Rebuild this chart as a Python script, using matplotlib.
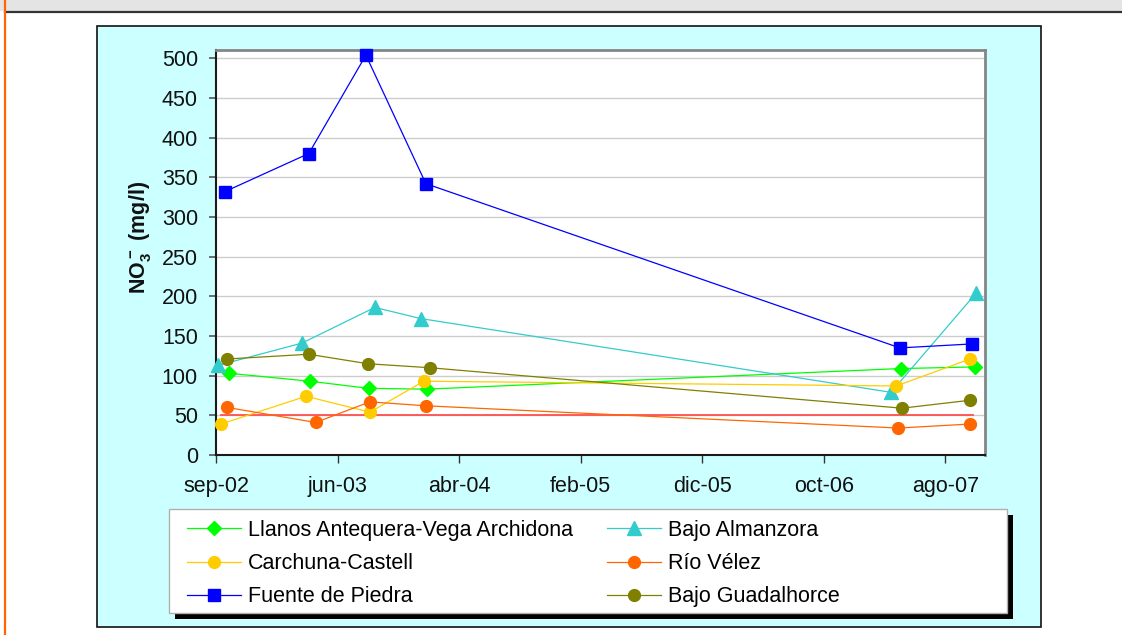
import matplotlib
matplotlib.use('Agg')
import matplotlib.pyplot as plt
import matplotlib.dates as mdates
from matplotlib.patches import Rectangle
from matplotlib.lines import Line2D
import numpy as np

plt.rcParams['font.family'] = ['Liberation Sans', 'DejaVu Sans']
plt.rcParams['mathtext.fontset'] = 'custom'
plt.rcParams['mathtext.rm'] = 'Liberation Sans:bold'
plt.rcParams['mathtext.bf'] = 'Liberation Sans:bold'
plt.rcParams['mathtext.default'] = 'bf'

# ---------------- data ----------------
llanos_dates = ['2002-10-03', '2003-04-21', '2003-09-13', '2004-02-03', '2007-04-19', '2007-10-18']
llanos_vals = [103, 93, 84, 83, 109, 111]

almanzora_dates = ['2002-09-06', '2003-04-01', '2003-09-28', '2004-01-19', '2007-03-25', '2007-10-21']
almanzora_vals = [113, 141, 186, 172, 79, 204]

carchuna_dates = ['2002-09-13', '2003-04-11', '2003-09-16', '2004-01-27', '2007-04-07', '2007-10-06']
carchuna_vals = [39, 74, 54, 93, 87, 121]

velez_dates = ['2002-09-28', '2003-05-05', '2003-09-16', '2004-02-01', '2007-04-12', '2007-10-06']
velez_vals = [60, 41, 67, 62, 34, 39]

fuente_dates = ['2002-09-23', '2003-04-18', '2003-09-06', '2004-02-01', '2007-04-16', '2007-10-11']
fuente_vals = [332, 380, 504, 342, 135, 140]

guadalhorce_dates = ['2002-09-28', '2003-04-18', '2003-09-11', '2004-02-11', '2007-04-21', '2007-10-06']
guadalhorce_vals = [121, 127, 115, 110, 59, 69]

limit_dates = ['2002-09-13', '2007-10-13']
limit_vals = [50, 50]

names = ['Llanos Antequera-Vega Archidona', 'Bajo Almanzora', 'Carchuna-Castell',
         'Río Vélez', 'Fuente de Piedra', 'Bajo Guadalhorce']

tick_dates = ['2002-09-01', '2003-06-28', '2004-04-23', '2005-02-17',
              '2005-12-14', '2006-10-10', '2007-08-06']
tick_labels = ['sep-02', 'jun-03', 'abr-04', 'feb-05', 'dic-05', 'oct-06', 'ago-07']
x_min, x_max = '2002-09-01', '2007-11-12'
y_ticks = [0, 50, 100, 150, 200, 250, 300, 350, 400, 450, 500]
y_max = 510.5

ylabel = 'NO$_3^-$ (mg/l)'

# ---------------- figure ----------------
W, H = 1122, 635
fig = plt.figure(figsize=(W / 100, H / 100), dpi=100)
fig.patch.set_facecolor('white')


def fx(px):
    return px / W


def fy(py):
    return 1 - py / H


# top grey band and frame lines
fig.add_artist(Rectangle((0, fy(11)), 1, 11 / H, transform=fig.transFigure,
                         facecolor='#e4e4e4', edgecolor='none', zorder=-2))
fig.add_artist(Line2D([fx(5), 1], [fy(12), fy(12)], transform=fig.transFigure,
                      color='#333333', lw=1.6, zorder=-1))
fig.add_artist(Line2D([fx(5), fx(5)], [0, 1], transform=fig.transFigure,
                      color='#ff6600', lw=1.6, zorder=-1))
# chart area
fig.add_artist(Rectangle((fx(97), fy(627)), (1041 - 97) / W, (627 - 26) / H,
                         transform=fig.transFigure, facecolor='#ccffff',
                         edgecolor='#111111', lw=1.2, zorder=-2))

ax = fig.add_axes([fx(216), fy(455), (985 - 216) / W, (455 - 50) / H])
ax.set_facecolor('white')


def d(lst):
    return mdates.date2num(np.array(lst, dtype='datetime64[D]'))


styles = [
    (llanos_dates, llanos_vals, '#00ff00', 'D', 7.0),
    (almanzora_dates, almanzora_vals, '#33cccc', '^', 9.5),
    (carchuna_dates, carchuna_vals, '#ffcc00', 'o', 8.5),
    (velez_dates, velez_vals, '#ff6600', 'o', 8.5),
    (fuente_dates, fuente_vals, '#0000ff', 's', 8.0),
    (guadalhorce_dates, guadalhorce_vals, '#808000', 'o', 8.5),
]

handles = []
for i, (dates, vals, col, mk, ms) in enumerate(styles):
    h, = ax.plot(d(dates), vals, color=col, marker=mk, markersize=ms,
                 markeredgecolor=col, markerfacecolor=col, lw=0.9,
                 clip_on=False, zorder=3 + i, label=names[i])
    handles.append(h)

ax.plot(d(limit_dates), limit_vals, color='#ff5050', lw=1.3, zorder=2.5)

ax.set_xlim(d([x_min])[0], d([x_max])[0])
ax.set_ylim(0, y_max)
ax.set_yticks(y_ticks)
ax.set_xticks(d(tick_dates))
ax.set_xticklabels(tick_labels)

ax.yaxis.grid(True, color='#cccccc', lw=1.0)
ax.set_axisbelow(True)

for side in ['left', 'bottom']:
    ax.spines[side].set_color('#1a1a1a')
    ax.spines[side].set_linewidth(1.5)
for side in ['top', 'right']:
    ax.spines[side].set_color('#858585')
    ax.spines[side].set_linewidth(2.0)

ax.tick_params(axis='both', which='major', labelsize=15.5, colors='#111111')
ax.tick_params(axis='y', length=5, width=1.2, color='#555555', pad=8)
ax.tick_params(axis='x', length=6, width=1.0, color='#333333', pad=9)

fig.text(fx(140), fy(237), ylabel, rotation=90, ha='center', va='center',
         fontsize=15.5, fontweight='bold', color='#111111')

# legend frame with shadow
fig.add_artist(Rectangle((fx(175), fy(619)), (1013 - 175) / W, (619 - 515) / H,
                         transform=fig.transFigure, facecolor='black',
                         edgecolor='none', zorder=-1))
fig.add_artist(Rectangle((fx(169), fy(613)), (1007 - 169) / W, (613 - 509) / H,
                         transform=fig.transFigure, facecolor='white',
                         edgecolor='#b0b0b0', lw=1.0, zorder=-0.5))

order = [0, 2, 4, 1, 3, 5]
fig.legend([handles[i] for i in order], [names[i] for i in order],
           loc='upper left', bbox_to_anchor=(fx(187), fy(520)),
           ncol=2, frameon=False, fontsize=15.5, borderpad=0,
           handlelength=2.5, handletextpad=0.33, columnspacing=1.57,
           labelspacing=0.56, borderaxespad=0)

fig.savefig('out.png', dpi=100, facecolor='white')
